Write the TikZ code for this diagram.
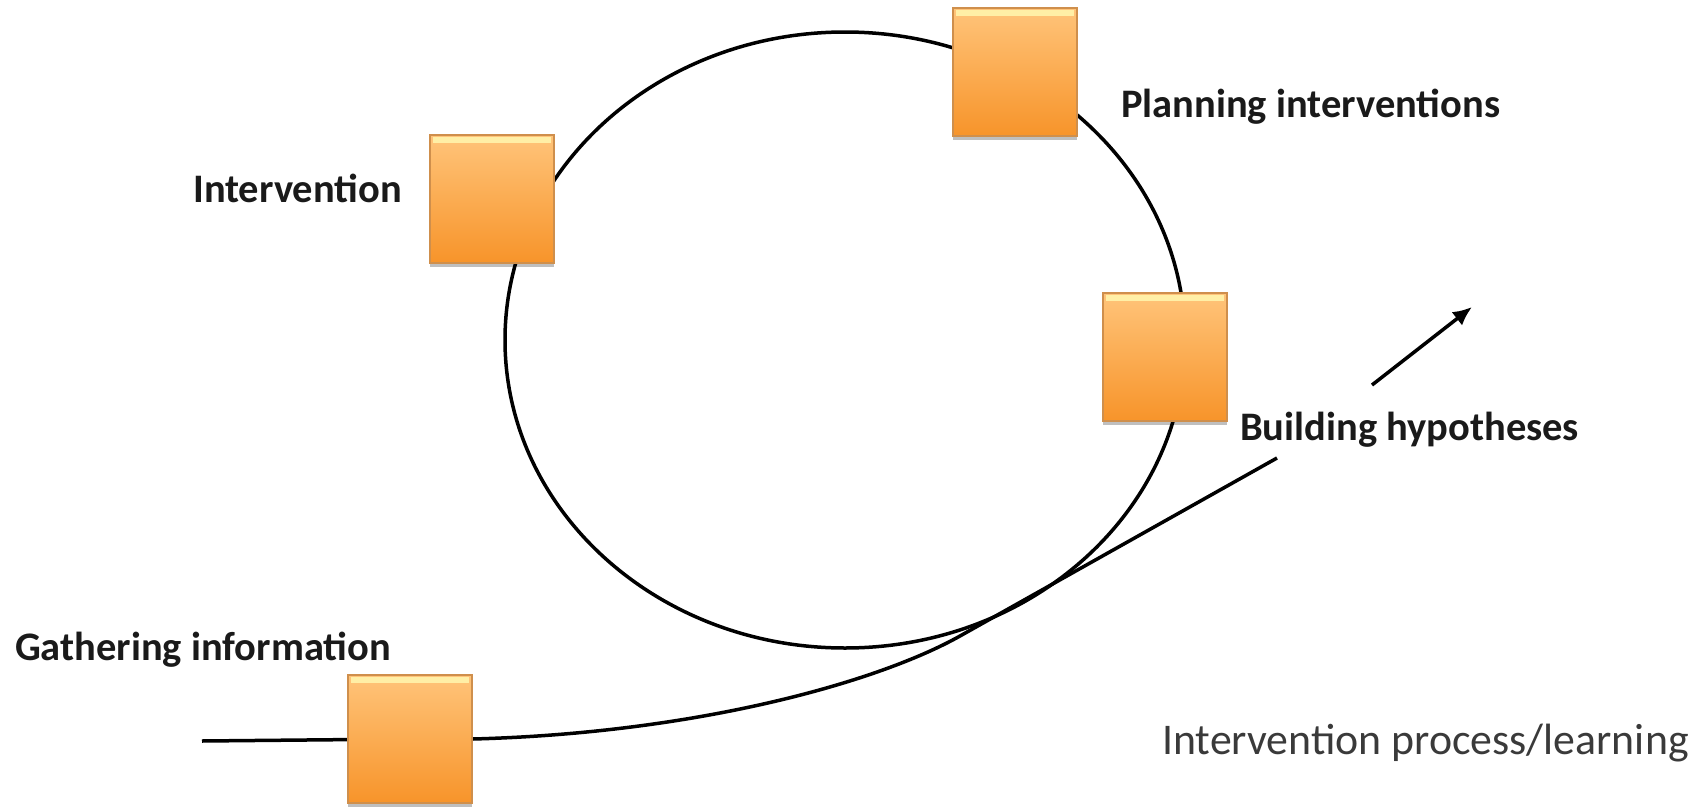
\documentclass[tikz,border=0pt]{standalone}
\usepackage{fontspec}
\setmainfont{Carlito}
\usetikzlibrary{arrows.meta,shadows,backgrounds}
\definecolor{boxtop}{HTML}{FFC47A}
\definecolor{boxbot}{HTML}{F7942A}
\definecolor{boxedge}{HTML}{CF8F4C}
\definecolor{hilite}{HTML}{FFEFA6}
\definecolor{txt}{HTML}{1A1A1A}
\definecolor{txtreg}{HTML}{3A3A3A}
\tikzset{
  stage/.style={rectangle, minimum width=124pt, minimum height=128pt, inner sep=0pt,
    top color=boxtop, bottom color=boxbot, draw=boxedge, line width=1.5pt,
    drop shadow={shadow xshift=0pt, shadow yshift=-4pt, opacity=0.25, fill=black},
    path picture={\fill[hilite] ([xshift=3pt,yshift=-2pt]path picture bounding box.north west)
      rectangle ([xshift=-3pt,yshift=-8pt]path picture bounding box.north east);}},
  curveline/.style={line width=3.5pt, draw=black},
  lbl/.style={anchor=base west, inner sep=0pt, text=txt,
    font=\fontsize{40.5}{48}\selectfont\bfseries},
  lblreg/.style={anchor=base west, inner sep=0pt, text=txtreg,
    font=\fontsize{43.8}{52}\selectfont},
  arrowline/.style={line width=3.5pt, -{Latex[length=19pt,width=17pt]}}
}
\begin{document}
\begin{tikzpicture}[x=1pt,y=-1pt]
\useasboundingbox (0,0) rectangle (1701,809);

% stages
\node[stage] (plan)  at (1015,72)  {};
\node[stage] (inter) at (492,199)  {};
\node[stage] (build) at (1165,357) {};
\node[stage] (gath)  at (410,739)  {};

% labels
\node[lbl] (tplan)  at (1121,117) {Planning interventions};
\node[lbl] (tinter) at (193,202)  {Intervention};
\node[lbl] (tbuild) at (1240,440) {Building hypotheses};
\node[lbl] (tgath)  at (15,660)   {Gathering information};
\node[lblreg] (tproc) at (1162,754) {Intervention process/learning};

% free ends
\coordinate (cyc) at (845,340);
\coordinate (tailstart) at (202,741);
\coordinate (knee) at (960,636);
\coordinate (tailend) at (1277,458);
\coordinate (a1) at (1372,385);
\coordinate (a2) at (1472,307);

\begin{scope}[on background layer]
  \draw[curveline] (cyc) ellipse [x radius=340pt, y radius=308pt];
  \draw[curveline, line join=round] (tailstart) -- (gath.center) -- (gath.east)
     .. controls (700,733) and (880,681) .. (knee) -- (tailend);
\end{scope}

\draw[arrowline] (a1) -- (a2);
\end{tikzpicture}
\end{document}
